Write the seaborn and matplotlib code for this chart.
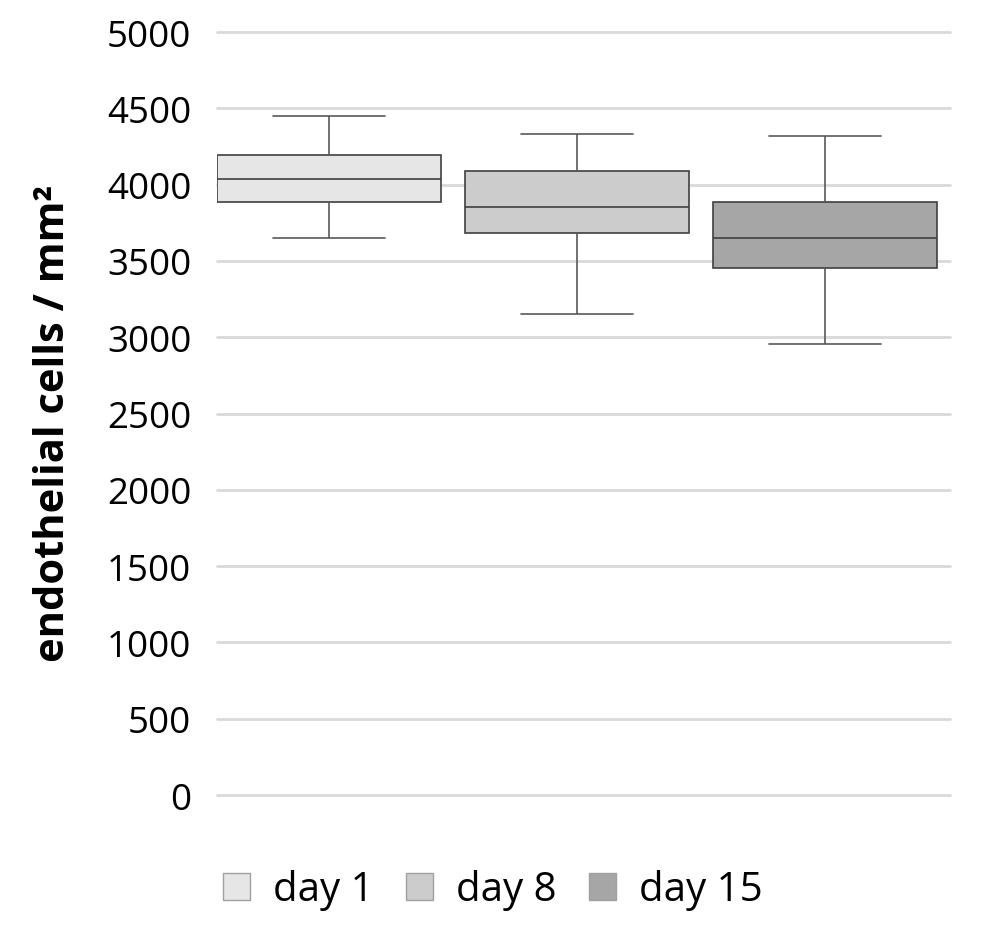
import matplotlib
matplotlib.use("Agg")
import matplotlib.pyplot as plt
import seaborn as sns
import pandas as pd
from matplotlib.patches import Patch

# five-number summaries: min, Q1, median, Q3, max
days = ["day 1", "day 8", "day 15"]
day1 = [3653, 3887, 4035, 4192, 4452]
day8 = [3153, 3684, 3851, 4087, 4334]
day15 = [2954, 3455, 3651, 3884, 4319]
colors = ["#E6E6E6", "#CCCCCC", "#A6A6A6"]
yticks = [0, 500, 1000, 1500, 2000, 2500, 3000, 3500, 4000, 4500, 5000]

sns.set_style("white")
plt.rcParams["font.family"] = ["Open Sans", "DejaVu Sans"]
plt.rcParams["text.color"] = "black"
plt.rcParams["ytick.color"] = "black"
plt.rcParams["axes.labelcolor"] = "black"

df = pd.DataFrame({
    "day": [days[0]] * 5 + [days[1]] * 5 + [days[2]] * 5,
    "cells": day1 + day8 + day15,
})

fig = plt.figure(figsize=(10, 9.28), dpi=100)
ax = fig.add_axes([0.217, 0.1422, 0.733, 0.8222])

sns.boxplot(data=df, x="day", y="cells", hue="day", order=days,
            palette=colors, whis=(0, 100), width=0.9, linecolor="#404040",
            linewidth=1.2, legend=False, ax=ax,
            medianprops={"color": "#404040", "linewidth": 1.2},
            whiskerprops={"color": "#595959", "linewidth": 1.2},
            capprops={"color": "#595959", "linewidth": 1.2})

ax.set_ylim(0, 5000)
ax.set_xlim(-0.452, 2.504)
ax.set_yticks(yticks)
ax.set_yticklabels([str(t) for t in yticks])
ax.yaxis.grid(True, color="#D9D9D9", linewidth=2)
for gl in ax.get_ygridlines():
    gl.set_clip_on(False)
ax.set_axisbelow(True)
for s in ax.spines.values():
    s.set_visible(False)
ax.tick_params(axis="y", length=0, pad=18.5, labelsize=26.5, labelcolor="black")
ax.set_xticks([])
ax.set_xlabel("")
ax.set_ylabel("endothelial cells / mm²", fontsize=30, fontweight="bold", color="black")
ax.yaxis.set_label_coords(-0.195, 0.489)

handles = [Patch(facecolor=c, edgecolor="#A0A0A0", linewidth=1) for c in colors]
fig.legend(handles, days, loc="center", bbox_to_anchor=(0.493, 0.04), ncol=3,
           frameon=False, fontsize=29, handlelength=0.67, handleheight=0.67,
           handletextpad=0.58, columnspacing=0.8)

fig.savefig("out.png", dpi=100)
